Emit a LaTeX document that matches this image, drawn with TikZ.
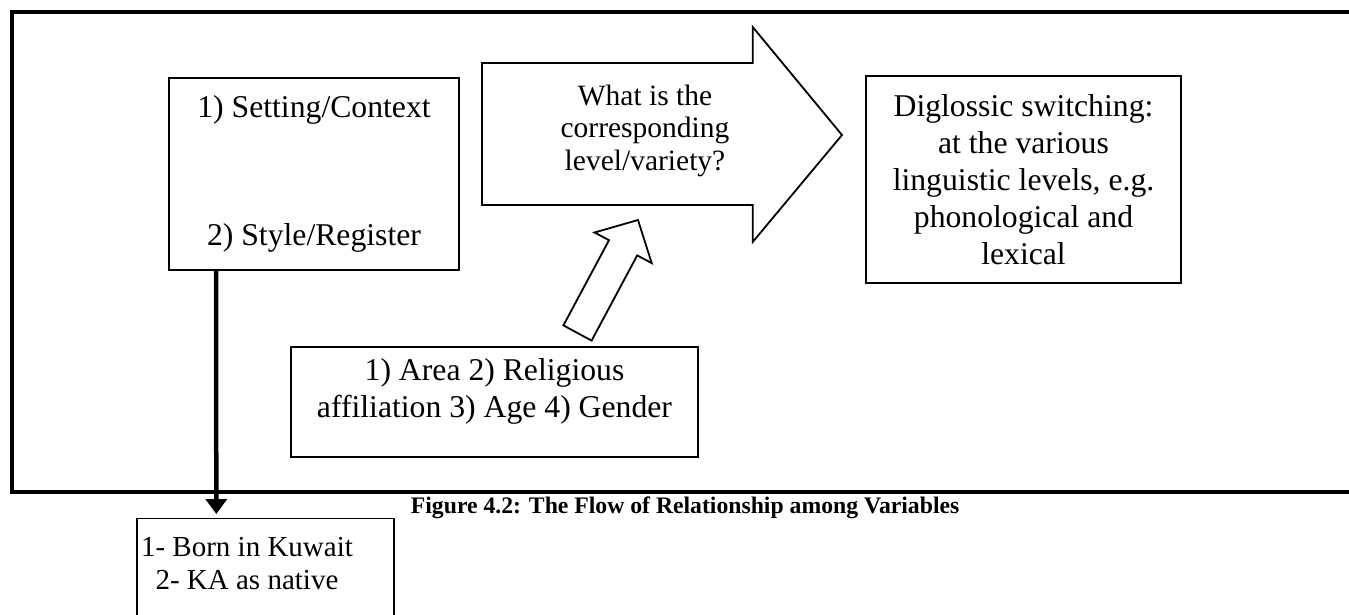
\documentclass[tikz,border=0pt]{standalone}
\usepackage{fontspec}
\setmainfont{Liberation Serif}
\usetikzlibrary{arrows.meta}

\begin{document}
\begin{tikzpicture}[x=1pt,y=-1pt,line width=1.8pt,
  box/.style={draw,rectangle,inner sep=0pt,align=center,font=\fontsize{31.7}{37}\selectfont},
  boxtext/.style={inner sep=0pt,align=center,font=\fontsize{31.7}{37}\selectfont},
  flow/.style={line width=4.5pt,-{Triangle[width=21pt,length=15pt]}}]
\useasboundingbox (0,0) rectangle (1349,615);
% frame round the diagram (open on the right)
\draw[line width=4.5pt] (1355,12)--(12,12)--(12,492)--(1355,492);
\node[box,minimum width=290pt,minimum height=192pt] (setting) at (314,174) {1) Setting/Context\\[91pt]2) Style/Register};
\node[box,minimum width=315pt,minimum height=207pt] (switching) at (1023.5,179.5) {Diglossic switching:\\at the various\\linguistic levels, e.g.\\phonological and\\lexical};
\node[box,minimum width=407pt,minimum height=110pt] (factors) at (494.5,402) {};
\node[boxtext] (factorstext) at (494.5,391.5) {1) Area 2) Religious\\affiliation 3) Age 4) Gender};
\node[box,minimum width=257pt,minimum height=140pt,anchor=north,line width=1.4pt] (born) at (265.5,518) {};
\node[boxtext,font=\fontsize{29}{33}\selectfont] (borntext) at (247,563.5) {1- Born in Kuwait\\2- KA as native};
% block arrows
\draw (482,63)--(752.7,63)--(752.7,27)--(842,135)--(752.7,242)--(752.7,205)--(482,205)--cycle;
\node[boxtext,font=\fontsize{29.5}{32.5}\selectfont] (question) at (645,130.5) {What is the\\corresponding\\level/variety?};
\draw (563.4,325.4)--(609,240.2)--(594.5,232.5)--(638,220)--(651.7,263.1)--(637.2,255.4)--(591.6,340.6)--cycle;
\draw[flow,shorten >=4pt] ([xshift=48pt]setting.south west)--([xshift=80pt]born.north west);
\node[anchor=west,inner sep=0pt,font=\fontsize{23.7}{28}\selectfont\bfseries] (caption) at (410,508) {Figure 4.2: The Flow of Relationship among Variables};
\end{tikzpicture}
\end{document}
